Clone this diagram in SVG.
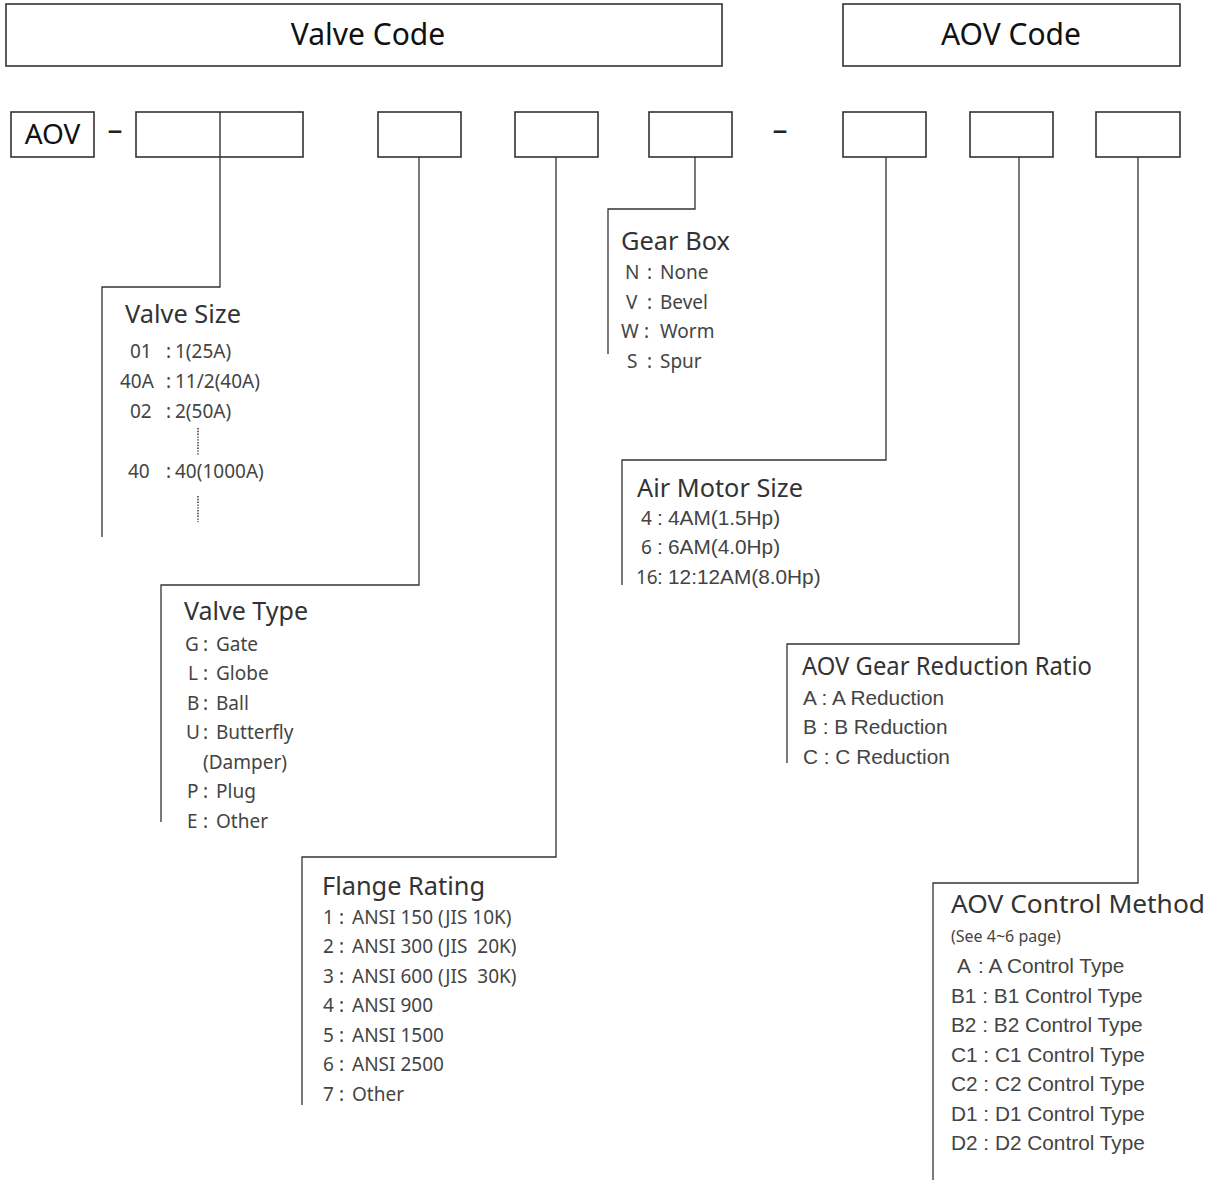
<svg xmlns="http://www.w3.org/2000/svg" width="1217" height="1182" viewBox="0 0 1217 1182">
<style>
.box{fill:#fff;stroke:#333;stroke-width:1.6}
.hdr{font-family:"Noto Sans","Open Sans",sans-serif;font-size:30px;fill:#111;text-anchor:middle}
.conn{fill:none;stroke:#333;stroke-width:1.3}
.dot{fill:none;stroke:#444;stroke-width:1.6;stroke-dasharray:1.4 1.4}
.ttl{font-family:"Noto Sans","Open Sans",sans-serif;font-size:25px;fill:#333}
.it{font-family:"Noto Sans","Open Sans",sans-serif;font-size:19px;fill:#444}
.ia{font-family:"Liberation Sans",Arial,sans-serif;font-size:20.8px;fill:#444}
.sm{font-family:"Noto Sans","Open Sans",sans-serif;font-size:16px;fill:#444}
.dash{font-family:"Noto Sans",sans-serif;font-size:30px;fill:#222;text-anchor:middle}
</style>
<rect width="1217" height="1182" fill="#fff"/>
<g id="header-valve-code"><rect class="box" x="6" y="4" width="716" height="62"/><text class="hdr" x="368" y="45">Valve Code</text></g>
<g id="header-aov-code"><rect class="box" x="843" y="4" width="337" height="62"/><text class="hdr" x="1011" y="45">AOV Code</text></g>

<g id="box-aov"><rect class="box" x="11" y="112" width="83" height="45"/><text x="52.5" y="144" style="font-family:'Noto Sans',sans-serif;font-size:28px;fill:#111;text-anchor:middle">AOV</text></g>
<text class="dash" x="115" y="140">–</text>
<g id="box-size"><rect class="box" x="136" y="112" width="167" height="45"/><line x1="220" y1="112" x2="220" y2="157" stroke="#333" stroke-width="1.4"/></g>
<g id="box-type"><rect class="box" x="378" y="112" width="83" height="45"/></g>
<g id="box-flange"><rect class="box" x="515" y="112" width="83" height="45"/></g>
<g id="box-gear"><rect class="box" x="649" y="112" width="83" height="45"/></g>
<text class="dash" x="780" y="140">–</text>
<g id="box-motor"><rect class="box" x="843" y="112" width="83" height="45"/></g>
<g id="box-ratio"><rect class="box" x="970" y="112" width="83" height="45"/></g>
<g id="box-control"><rect class="box" x="1096" y="112" width="84" height="45"/></g>

<g id="connectors">
<polyline class="conn" points="220,157 220,287 102,287 102,537"/>
<polyline class="conn" points="419,157 419,585 161,585 161,822"/>
<polyline class="conn" points="556,157 556,857 302,857 302,1105"/>
<polyline class="conn" points="695,157 695,209 608,209 608,354"/>
<polyline class="conn" points="886,157 886,460 622,460 622,585"/>
<polyline class="conn" points="1019,157 1019,644 787,644 787,763"/>
<polyline class="conn" points="1138,157 1138,883 933,883 933,1180"/>
</g>

<g id="valve-size">
<text class="ttl" x="125" y="323" textLength="116" lengthAdjust="spacingAndGlyphs">Valve Size</text>
<text class="it" y="358"><tspan x="130">01</tspan><tspan x="166">:</tspan><tspan x="175">1(25A)</tspan></text>
<text class="it" y="388"><tspan x="120">40A</tspan><tspan x="166">:</tspan><tspan x="175">11/2(40A)</tspan></text>
<text class="it" y="418"><tspan x="130">02</tspan><tspan x="166">:</tspan><tspan x="175">2(50A)</tspan></text>
<line class="dot" x1="198" y1="428" x2="198" y2="456"/>
<text class="it" y="478"><tspan x="128">40</tspan><tspan x="166">:</tspan><tspan x="175">40(1000A)</tspan></text>
<line class="dot" x1="198" y1="496" x2="198" y2="522"/>
</g>

<g id="valve-type">
<text class="ttl" x="184" y="620" textLength="124" lengthAdjust="spacingAndGlyphs">Valve Type</text>
<text class="it" y="651"><tspan x="185">G</tspan><tspan x="203">:</tspan><tspan x="216">Gate</tspan></text>
<text class="it" y="680"><tspan x="188">L</tspan><tspan x="203">:</tspan><tspan x="216">Globe</tspan></text>
<text class="it" y="710"><tspan x="187">B</tspan><tspan x="203">:</tspan><tspan x="216">Ball</tspan></text>
<text class="it" y="739"><tspan x="186">U</tspan><tspan x="203">:</tspan><tspan x="216">Butterfly</tspan></text>
<text class="it" x="203" y="769">(Damper)</text>
<text class="it" y="798"><tspan x="187">P</tspan><tspan x="203">:</tspan><tspan x="216">Plug</tspan></text>
<text class="it" y="828"><tspan x="187">E</tspan><tspan x="203">:</tspan><tspan x="216">Other</tspan></text>
</g>

<g id="flange-rating">
<text class="ttl" x="322" y="895" textLength="163" lengthAdjust="spacingAndGlyphs">Flange Rating</text>
<text class="it" y="924"><tspan x="323">1</tspan><tspan x="339">:</tspan><tspan x="352">ANSI 150 (JIS 10K)</tspan></text>
<text class="it" y="953"><tspan x="323">2</tspan><tspan x="339">:</tspan><tspan x="352">ANSI 300 (JIS&#160; 20K)</tspan></text>
<text class="it" y="983"><tspan x="323">3</tspan><tspan x="339">:</tspan><tspan x="352">ANSI 600 (JIS&#160; 30K)</tspan></text>
<text class="it" y="1012"><tspan x="323">4</tspan><tspan x="339">:</tspan><tspan x="352">ANSI 900</tspan></text>
<text class="it" y="1042"><tspan x="323">5</tspan><tspan x="339">:</tspan><tspan x="352">ANSI 1500</tspan></text>
<text class="it" y="1071"><tspan x="323">6</tspan><tspan x="339">:</tspan><tspan x="352">ANSI 2500</tspan></text>
<text class="it" y="1101"><tspan x="323">7</tspan><tspan x="339">:</tspan><tspan x="352">Other</tspan></text>
</g>

<g id="gear-box">
<text class="ttl" x="621" y="250" textLength="109" lengthAdjust="spacingAndGlyphs">Gear Box</text>
<text class="it" y="279"><tspan x="625">N</tspan><tspan x="647">:</tspan><tspan x="660">None</tspan></text>
<text class="it" y="309"><tspan x="626">V</tspan><tspan x="647">:</tspan><tspan x="660">Bevel</tspan></text>
<text class="it" y="338"><tspan x="621">W</tspan><tspan x="644">:</tspan><tspan x="660">Worm</tspan></text>
<text class="it" y="368"><tspan x="627">S</tspan><tspan x="647">:</tspan><tspan x="660">Spur</tspan></text>
</g>

<g id="air-motor-size">
<text class="ttl" x="637" y="497" textLength="166" lengthAdjust="spacingAndGlyphs">Air Motor Size</text>
<text class="it" x="641" y="525">4</text><text class="ia" y="525"><tspan x="657">:</tspan><tspan x="668">4AM(1.5Hp)</tspan></text>
<text class="it" x="641" y="554">6</text><text class="ia" y="554"><tspan x="657">:</tspan><tspan x="668">6AM(4.0Hp)</tspan></text>
<text class="it" x="636" y="584">16</text><text class="ia" y="584"><tspan x="657">:</tspan><tspan x="668">12:12AM(8.0Hp)</tspan></text>
</g>

<g id="gear-reduction-ratio">
<text class="ttl" x="802" y="675" textLength="290" lengthAdjust="spacingAndGlyphs">AOV Gear Reduction Ratio</text>
<text class="ia" x="803" y="705">A : A Reduction</text>
<text class="ia" x="803" y="734">B : B Reduction</text>
<text class="ia" x="803" y="764">C : C Reduction</text>
</g>

<g id="control-method">
<text class="ttl" x="951" y="913" textLength="254" lengthAdjust="spacingAndGlyphs">AOV Control Method</text>
<text class="sm" x="951" y="942">(See 4~6 page)</text>
<text class="ia" y="973"><tspan x="957">A</tspan><tspan x="978">: A Control Type</tspan></text>
<text class="ia" x="951" y="1003">B1 : B1 Control Type</text>
<text class="ia" x="951" y="1032">B2 : B2 Control Type</text>
<text class="ia" x="951" y="1062">C1 : C1 Control Type</text>
<text class="ia" x="951" y="1091">C2 : C2 Control Type</text>
<text class="ia" x="951" y="1121">D1 : D1 Control Type</text>
<text class="ia" x="951" y="1150">D2 : D2 Control Type</text>
</g>
</svg>
